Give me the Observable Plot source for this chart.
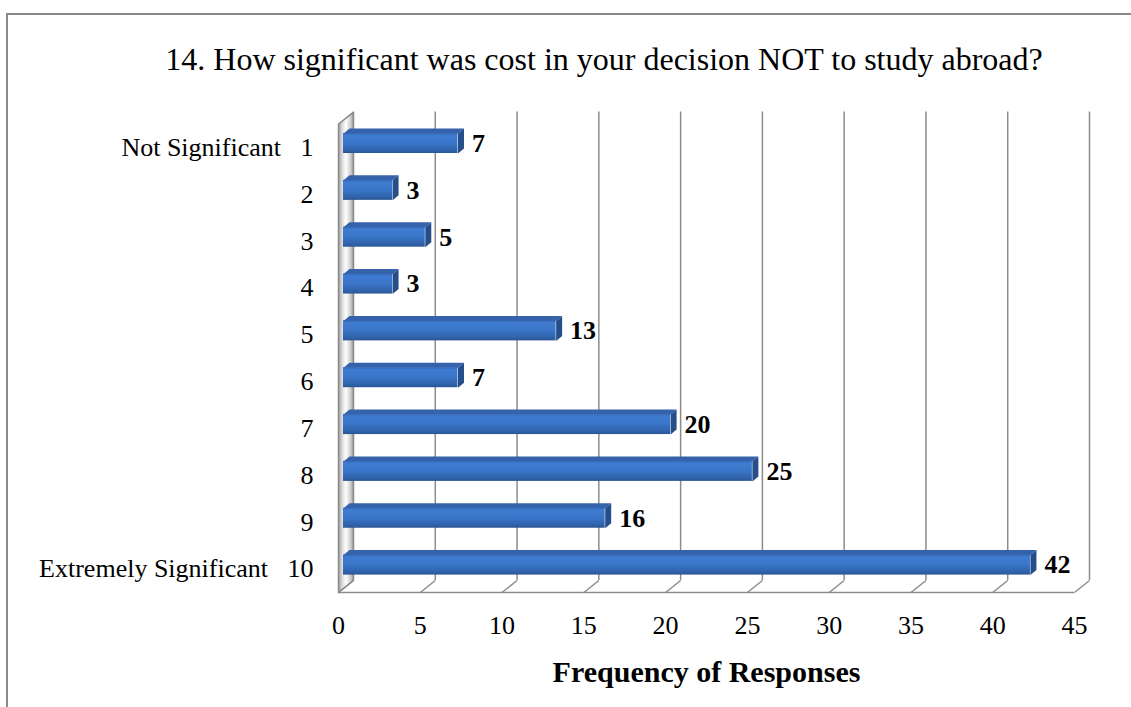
<!DOCTYPE html>
<html>
<head>
<meta charset="utf-8">
<script src="https://cdn.jsdelivr.net/npm/d3@7"></script>
<script src="https://cdn.jsdelivr.net/npm/@observablehq/plot@0.6"></script>
<style>
  html, body { margin: 0; padding: 0; background: #fff; overflow: hidden; }
  #wrap { position: relative; width: 1131px; height: 707px; overflow: hidden; background: #fff; }
  #border { position: absolute; left: 6px; top: 13px; width: 1400px; height: 1000px;
            border: 2px solid #8a8a8a; box-sizing: border-box; }
  #chart { position: absolute; left: 0; top: 0; }
  #chart svg text { white-space: pre; }
</style>
</head>
<body>
<div id="wrap"><div id="border"></div><div id="chart"></div></div>
<script>
// Survey question 14: rating of cost (1–10) vs number of responses
const title = "14. How significant was cost in your decision NOT to study abroad?";
const xTitle = "Frequency of Responses";
const ratings = [1, 2, 3, 4, 5, 6, 7, 8, 9, 10];
const responses = [7, 3, 5, 3, 13, 7, 20, 25, 16, 42];
const ratingNames = ["Not Significant", "", "", "", "", "", "", "", "", "Extremely Significant"];
const xTicks = [0, 5, 10, 15, 20, 25, 30, 35, 40, 45];

const bars = ratings.map((r, i) => ({row: r, value: responses[i], id: i}));

// layout
const W = 1131, H = 707;
const mL = 338, mR = 57, mT = 123.6, mB = 115;
const xMax = 45;
const xPx = (W - mL - mR) / xMax;        // pixels per response
const yPx = (H - mT - mB) / 10;          // pixels per row
const ux = px => px / xPx;
const uy = px => px / yPx;

// 3-D box: depth of the floor / back wall, and of the bars
const wallDX = 15, wallDY = 12;
const barFX = 5, barFY = 4, barDX = 6, barDY = 5, barHalf = 10;

// left wall panel
const wall = [
  {x: 0, y: 0.5},
  {x: ux(wallDX), y: 0.5 - uy(wallDY)},
  {x: ux(wallDX), y: 10.5 - uy(wallDY)},
  {x: 0, y: 10.5},
  {x: 0, y: 0.5}
];

// top face and end cap of each bar
const topFaces = bars.flatMap(d => {
  const yt = d.row - uy(barFY + barHalf);
  return [
    {id: d.id, x: ux(barFX), y: yt},
    {id: d.id, x: d.value + ux(barFX), y: yt},
    {id: d.id, x: d.value + ux(barFX + barDX), y: yt - uy(barDY)},
    {id: d.id, x: ux(barFX + barDX), y: yt - uy(barDY)}
  ];
});
const caps = bars.flatMap(d => {
  const yt = d.row - uy(barFY + barHalf);
  const yb = d.row - uy(barFY - barHalf);
  return [
    {id: d.id, x: d.value + ux(barFX), y: yt},
    {id: d.id, x: d.value + ux(barFX + barDX), y: yt - uy(barDY)},
    {id: d.id, x: d.value + ux(barFX + barDX), y: yb - uy(barDY)},
    {id: d.id, x: d.value + ux(barFX), y: yb}
  ];
});

const serif = "'Liberation Serif', 'Times New Roman', Times, serif";

const svg = Plot.plot({
  width: W,
  height: H,
  marginLeft: mL,
  marginRight: mR,
  marginTop: mT,
  marginBottom: mB,
  style: {fontFamily: serif, fontSize: "26px", color: "#000", background: "transparent"},
  x: {domain: [0, xMax], axis: null},
  y: {domain: [0.5, 10.5], range: [mT, H - mB], axis: null},
  marks: [
    // left wall
    Plot.line(wall, {x: "x", y: "y", fill: "url(#wallGrad)", stroke: "#8a8a8a", strokeWidth: 1.5}),
    // back wall gridlines
    Plot.ruleX(xTicks.filter(v => v > 0), {y1: 0.5, y2: 10.5, dx: wallDX, dy: -wallDY, stroke: "#8c8c8c", strokeWidth: 1.5}),
    // floor
    Plot.link(xTicks, {x1: v => v, y1: 10.5, x2: v => v + ux(wallDX), y2: 10.5 - uy(wallDY), stroke: "#8c8c8c", strokeWidth: 1.5}),
    Plot.ruleY([10.5], {x1: 0, x2: xMax, stroke: "#8c8c8c", strokeWidth: 1.5}),
    // bars
    Plot.line(topFaces, {x: "x", y: "y", z: "id", fill: "#3463ab", stroke: "none"}),
    Plot.line(caps, {x: "x", y: "y", z: "id", fill: "#254e8b", stroke: "none"}),
    Plot.rect(bars, {x1: d => 0, x2: "value", y1: d => d.row - uy(barHalf), y2: d => d.row + uy(barHalf),
                     dx: barFX, dy: -barFY, fill: "url(#barFront)"}),
    // value labels
    Plot.text(bars, {x: "value", y: "row", text: d => String(d.value), dx: 19, dy: -4,
                     textAnchor: "start", fontWeight: "bold", fontSize: 26, fill: "#000"}),
    // axes
    Plot.axisY({ticks: ratings, tickSize: 0, tickPadding: 25, fontSize: 26, label: null,
                tickFormat: r => (ratingNames[r - 1] ? ratingNames[r - 1] + "\u00a0\u00a0\u00a0" : "") + r}),
    Plot.axisX({ticks: xTicks, tickSize: 0, tickPadding: 23, fontSize: 26, label: null, tickFormat: d => String(d)}),
    // axis title
    Plot.text([xTitle], {frameAnchor: "bottom", dy: 80, lineAnchor: "middle", fontWeight: "bold", fontSize: 30, fill: "#000"}),
    // chart title
    Plot.text([title], {frameAnchor: "top-left", dx: 265.5, dy: 59 - mT, lineAnchor: "middle",
                        textAnchor: "middle", fontSize: 32, fill: "#000"})
  ]
});

// gradients used by the bar faces and the left wall
const defs = d3.select(svg).insert("defs", ":first-child");
const g1 = defs.append("linearGradient").attr("id", "barFront")
  .attr("x1", 0).attr("y1", 0).attr("x2", 0).attr("y2", 1);
[[0, "#3567b3"], [0.12, "#3f7cd1"], [0.5, "#3a75c8"], [0.85, "#3063ab"], [1, "#2a5594"]]
  .forEach(([o, c]) => g1.append("stop").attr("offset", o).attr("stop-color", c));
const g2 = defs.append("linearGradient").attr("id", "wallGrad")
  .attr("x1", 0).attr("y1", 0).attr("x2", 1).attr("y2", 0);
[[0, "#a0a0a0"], [0.25, "#dcdcdc"], [0.5, "#ffffff"], [0.8, "#cfcfcf"], [1, "#9a9a9a"]]
  .forEach(([o, c]) => g2.append("stop").attr("offset", o).attr("stop-color", c));

document.getElementById("chart").appendChild(svg);
</script>
</body>
</html>
